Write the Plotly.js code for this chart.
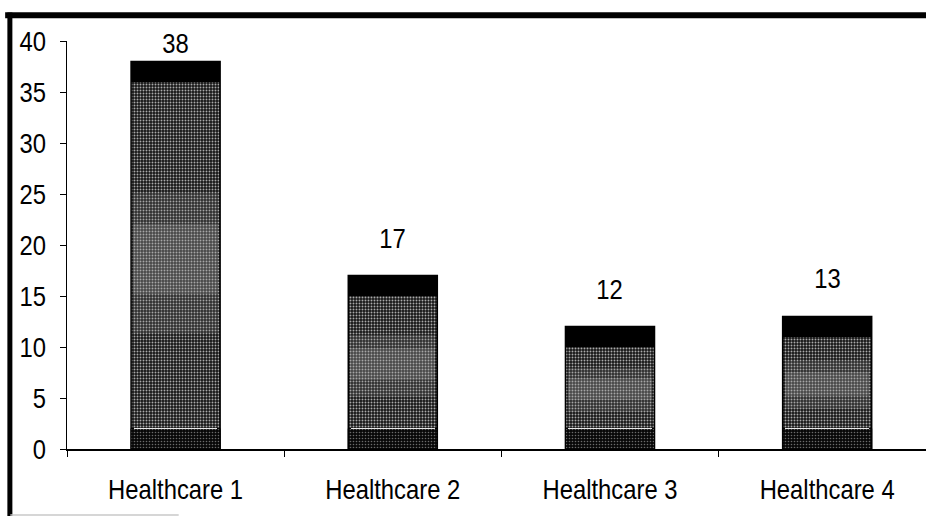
<!DOCTYPE html>
<html>
<head>
<meta charset="utf-8">
<script src="https://cdn.plot.ly/plotly-3.0.1.min.js"></script>
<style>
  html, body { margin: 0; padding: 0; background: #fff; }
  #chart { width: 926px; height: 516px; }
</style>
</head>
<body>
<div id="chart"></div>
<script>
// Number of cases per provider
const categories = ['Healthcare 1', 'Healthcare 2', 'Healthcare 3', 'Healthcare 4'];
const values = [38, 17, 12, 13];
const yTicks = [0, 5, 10, 15, 20, 25, 30, 35, 40];

const FONT = '"Liberation Sans", Arial, sans-serif';
const FSIZE = 28;
const SQUEEZE = 0.85;   // horizontal compression of all labels (narrow lettering)
const BAR_W = 0.41;
const CAP = 2;     // dark band at the top of each column
const FOOT = 2;    // dark band at the base of each column

// Main grainy column body
const body = {
  type: 'bar', x: categories, y: values, width: BAR_W,
  marker: {
    color: '#333',
    line: { color: '#000', width: 1.5 },
    pattern: { shape: '.', fgcolor: '#aaaaaa', bgcolor: '#161616', size: 3, solidity: 0.32 }
  },
  hoverinfo: 'x+y'
};

// Lighter middle zone of each column, in two soft layers
const glowOuter = {
  type: 'bar', x: categories,
  base: values.map(v => v * 0.3), y: values.map(v => v * 0.36),
  width: BAR_W * 0.95,
  marker: { color: '#8a8a8a', line: { width: 0 } },
  opacity: 0.2, hoverinfo: 'skip'
};
const glowInner = {
  type: 'bar', x: categories,
  base: values.map(v => v * 0.4), y: values.map(v => v * 0.18),
  width: BAR_W * 0.95,
  marker: { color: '#b0b0b0', line: { width: 0 } },
  opacity: 0.2, hoverinfo: 'skip'
};

// Black cap
const cap = {
  type: 'bar', x: categories,
  base: values.map(v => v - CAP), y: values.map(() => CAP),
  width: BAR_W, marker: { color: '#000', line: { width: 0 } }, hoverinfo: 'skip'
};

// Dark foot band
const foot = {
  type: 'bar', x: categories,
  base: values.map(() => 0), y: values.map(() => FOOT),
  width: BAR_W,
  marker: {
    color: '#111', line: { color: '#000', width: 1 },
    pattern: { shape: '.', fgcolor: '#6a6a6a', bgcolor: '#080808', size: 3, solidity: 0.22 }
  },
  hoverinfo: 'skip'
};

// Thin light rule above the foot band
const rule = {
  type: 'bar', x: categories,
  base: values.map(() => FOOT - 0.07), y: values.map(() => 0.14),
  width: BAR_W * 0.94, marker: { color: '#e8e8e8', line: { width: 0 } }, hoverinfo: 'skip'
};

// Value labels above the columns
const annotations = categories.map((c, i) => ({
  x: c, y: values[i], text: String(values[i]),
  xref: 'x', yref: 'y', showarrow: false,
  yanchor: 'bottom', yshift: values[i] > 35 ? 0 : 20,
  font: { family: FONT, size: FSIZE, color: '#000' }
}));

const axisFont = { family: FONT, size: FSIZE, color: '#000' };

const layout = {
  width: 926, height: 516,
  margin: { l: 67, r: 0, t: 41, b: 67, pad: 0 },
  paper_bgcolor: '#fff', plot_bgcolor: '#fff',
  barmode: 'overlay', bargap: 0,
  showlegend: false,
  font: axisFont,
  xaxis: {
    type: 'category', range: [-0.5, 3.455],
    showline: true, linecolor: '#000', linewidth: 1.5,
    ticks: 'outside', tickson: 'boundaries', ticklen: 6, tickcolor: '#000', tickwidth: 1,
    ticklabelstandoff: 15,
    showgrid: false, zeroline: false, fixedrange: true,
    tickfont: axisFont
  },
  yaxis: {
    range: [0, 40], tickvals: yTicks, ticktext: yTicks.map(String),
    showline: true, linecolor: '#000', linewidth: 1.5,
    ticks: 'outside', ticklen: 6, tickcolor: '#000', tickwidth: 1,
    ticklabelstandoff: 8,
    showgrid: false, zeroline: false, fixedrange: true,
    tickfont: axisFont
  },
  annotations: annotations,
  shapes: [
    // heavy frame along the top and left edges
    { type: 'line', xref: 'paper', yref: 'paper', x0: -0.072, x1: 1.01, y0: 1.063, y1: 1.063,
      line: { color: '#000', width: 6 } },
    { type: 'line', xref: 'paper', yref: 'paper', x0: -0.0665, x1: -0.0665, y0: 1.07, y1: -0.17,
      line: { color: '#000', width: 5 } },
    // faint rule at the very bottom left
    { type: 'line', xref: 'paper', yref: 'paper', x0: -0.066, x1: 0.13, y0: -0.162, y1: -0.162,
      line: { color: '#c8c8c8', width: 1.5 } }
  ]
};

// Compress label glyphs horizontally so the lettering reads as a narrow face
function squeezeLabels(gd) {
  gd.querySelectorAll('.xtick text, .ytick text, text.annotation-text').forEach(t => {
    const w = t.getComputedTextLength();
    if (w > 0) {
      t.setAttribute('textLength', (w * SQUEEZE).toFixed(1));
      t.setAttribute('lengthAdjust', 'spacingAndGlyphs');
    }
  });
  return gd;
}

Plotly.newPlot('chart', [body, glowOuter, glowInner, foot, rule, cap], layout,
  { displayModeBar: false, staticPlot: true }).then(squeezeLabels);
</script>
</body>
</html>
